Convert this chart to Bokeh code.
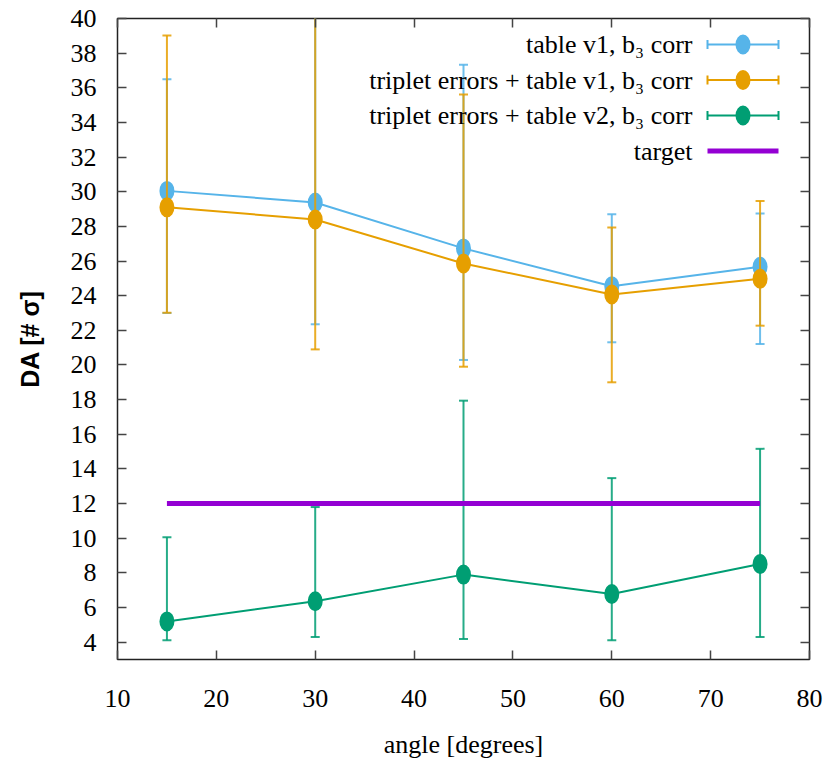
from bokeh.plotting import figure
from bokeh.models import Range1d, LinearAxis, SingleIntervalTicker, CustomJSTickFormatter
from bokeh.embed import file_html
from bokeh.resources import INLINE
from bokeh.core.properties import value
import math

# ---------------- data ----------------
angles = [15, 30, 45, 60, 75]

v1_val = [30.05, 29.38, 26.73, 24.55, 25.67]
v1_low = [23.0, 22.35, 20.29, 21.31, 21.21]
v1_high = [36.5, 40.9, 37.33, 28.70, 28.74]

t1_val = [29.1, 28.40, 25.86, 24.07, 24.98]
t1_low = [23.01, 20.9, 19.9, 19.0, 22.27]
t1_high = [39.02, 42.0, 35.62, 27.94, 29.47]

t2_val = [5.2, 6.36, 7.9, 6.78, 8.51]
t2_low = [4.11, 4.30, 4.19, 4.11, 4.30]
t2_high = [10.05, 11.8, 17.94, 13.47, 15.16]

target_x = [15, 75]
target_y = [12, 12]

labels = ["table v1, b\u2083 corr",
          "triplet errors + table v1, b\u2083 corr",
          "triplet errors + table v2, b\u2083 corr",
          "target"]
colors = ["#56b4e9", "#e69f00", "#009e73", "#9400d3"]

x_label = "angle [degrees]"
y_label = "DA [# \u03c3]"

# ---------------- figure ----------------
FW, FH = 692, 641
p = figure(frame_width=FW, frame_height=FH,
           x_range=Range1d(10, 80), y_range=Range1d(3, 40),
           output_backend="svg", toolbar_location=None,
           min_border_left=117, min_border_right=28,
           min_border_top=18, min_border_bottom=105)
p.xgrid.visible = False
p.ygrid.visible = False
p.outline_line_color = "#222222"
p.outline_line_width = 1.5
p.background_fill_color = "white"
p.border_fill_color = "white"

serif = "Liberation Serif"

for ax in (p.xaxis[0], p.yaxis[0]):
    ax.major_tick_in = 9
    ax.major_tick_out = 0
    ax.minor_tick_line_color = None
    ax.major_tick_line_color = "#444444"
    ax.major_tick_line_width = 1.5
    ax.axis_line_color = None
    ax.major_label_text_font = serif
    ax.major_label_text_font_size = "26px"
    ax.major_label_text_color = "black"

p.xaxis[0].ticker = SingleIntervalTicker(interval=10)
p.yaxis[0].ticker = SingleIntervalTicker(interval=2)
p.xaxis[0].major_label_standoff = 26
p.yaxis[0].major_label_standoff = 17

p.xaxis[0].axis_label = x_label
p.xaxis[0].axis_label_text_font = serif
p.xaxis[0].axis_label_text_font_size = "26px"
p.xaxis[0].axis_label_text_font_style = "normal"
p.xaxis[0].axis_label_text_color = "black"
p.xaxis[0].axis_label_standoff = 20

p.yaxis[0].axis_label = y_label
p.yaxis[0].axis_label_text_font = "Liberation Sans"
p.yaxis[0].axis_label_text_font_size = "25px"
p.yaxis[0].axis_label_text_font_style = "bold"
p.yaxis[0].axis_label_text_color = "black"
p.yaxis[0].axis_label_standoff = 24

# mirror axes (ticks only)
blank = CustomJSTickFormatter(code="return '';")
top = LinearAxis(ticker=SingleIntervalTicker(interval=10), formatter=blank)
right = LinearAxis(ticker=SingleIntervalTicker(interval=2), formatter=blank)
for ax in (top, right):
    ax.major_tick_in = 9
    ax.major_tick_out = 0
    ax.minor_tick_line_color = None
    ax.major_tick_line_color = "#444444"
    ax.major_tick_line_width = 1.5
    ax.axis_line_color = None
    ax.major_label_standoff = 0
p.add_layout(top, "above")
p.add_layout(right, "right")


def series(vals, lows, highs, color):
    p.segment(x0=angles, y0=lows, x1=angles, y1=highs,
              line_color=color, line_width=2, line_alpha=0.85)
    p.scatter(angles, lows, marker="dash", size=9,
              line_color=color, line_width=2, line_alpha=0.85)
    p.scatter(angles, highs, marker="dash", size=9,
              line_color=color, line_width=2, line_alpha=0.85)
    p.line(angles, vals, line_color=color, line_width=2)
    p.ellipse(x=angles, y=vals, width=15, height=20,
              width_units="screen", height_units="screen",
              fill_color=color, line_color=None)


series(v1_val, v1_low, v1_high, colors[0])
series(t1_val, t1_low, t1_high, colors[1])
series(t2_val, t2_low, t2_high, colors[2])
p.line(target_x, target_y, line_color=colors[3], line_width=5)

# ---------------- legend (frame pixel coordinates) ----------------
p.extra_x_ranges = {"px": Range1d(0, FW)}
p.extra_y_ranges = {"px": Range1d(0, FH)}

leg_x0, leg_x1 = 590, 661
leg_xm = (leg_x0 + leg_x1) / 2
leg_text_x = 575
leg_top = 615
leg_step = 35.5
rows = [leg_top - i * leg_step for i in range(4)]

for i in range(3):
    y = rows[i]
    c = colors[i]
    p.segment(x0=[leg_x0], y0=[y], x1=[leg_x1], y1=[y], line_color=c,
              line_width=2, x_range_name="px", y_range_name="px")
    p.scatter([leg_x0, leg_x1], [y, y], marker="dash", angle=math.pi / 2,
              size=9, line_color=c, line_width=2,
              x_range_name="px", y_range_name="px")
    p.ellipse(x=[leg_xm], y=[y], width=15, height=20,
              width_units="screen", height_units="screen",
              fill_color=c, line_color=None,
              x_range_name="px", y_range_name="px")
p.segment(x0=[leg_x0], y0=[rows[3]], x1=[leg_x1], y1=[rows[3]],
          line_color=colors[3], line_width=5,
          x_range_name="px", y_range_name="px")

p.text(x=[leg_text_x] * 4, y=rows, text=labels,
       text_font=value(serif), text_font_size="26px",
       text_align="right", text_baseline="middle", text_color="black",
       x_range_name="px", y_range_name="px")

open("out.html", "w").write(file_html(p, INLINE))
